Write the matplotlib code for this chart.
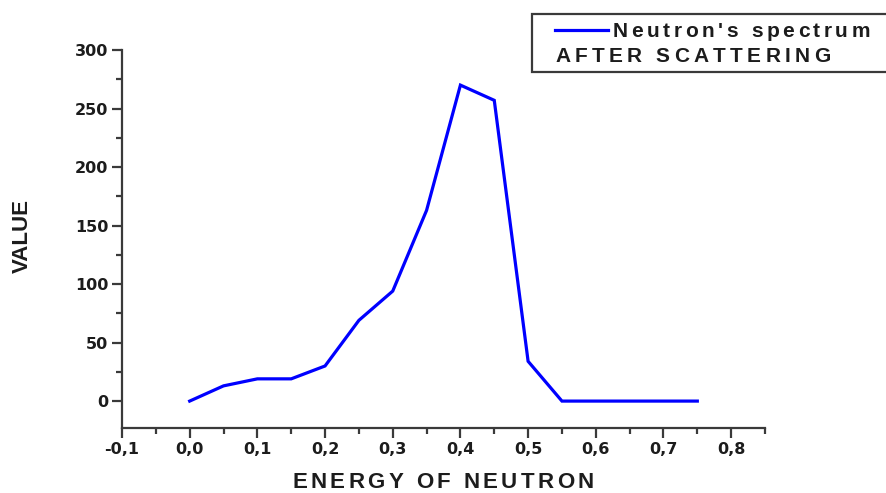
import numpy as np
import matplotlib
matplotlib.use('Agg')
import matplotlib.pyplot as plt
from matplotlib.font_manager import FontProperties
from matplotlib.ticker import MultipleLocator, FuncFormatter
from matplotlib.patches import Rectangle
from matplotlib.lines import Line2D

# data
energy = [0.0, 0.05, 0.10, 0.15, 0.20, 0.25, 0.30, 0.35, 0.40, 0.45, 0.50, 0.55, 0.60, 0.65, 0.70, 0.75]
value = [0, 13, 19, 19, 30, 69, 94, 163, 270, 257, 34, 0, 0, 0, 0, 0]

series_label = "Neutron's spectrum"
legend_note = "AFTER SCATTERING"
x_title = "ENERGY OF NEUTRON"
y_title = "VALUE"

W, H = 887, 493
fig = plt.figure(figsize=(W / 100, H / 100), dpi=100)
renderer = fig.canvas.get_renderer()

ink = '#1c1c1c'
axis_col = '#3a3a3a'


def spaced_text(s, x0, x1, baseline, size):
    """Draw s letter by letter so that it spans x0..x1 (figure pixels, y from top)."""
    prop = FontProperties(family='Liberation Sans', weight='bold', size=size)
    ref = renderer.get_text_width_height_descent('HH', prop, ismath=False)[0]
    widths = [renderer.get_text_width_height_descent('H' + c + 'H', prop, ismath=False)[0] - ref
              for c in s]
    gap = (x1 - x0 - sum(widths)) / (len(s) - 1)
    x = x0
    for c, w in zip(s, widths):
        if c != ' ':
            fig.text(x / W, 1 - baseline / H, c, fontproperties=prop, color=ink,
                     ha='left', va='baseline')
        x += w + gap


ax = fig.add_axes([122 / W, 65 / H, 643 / W, 378 / H])
ax.plot(energy, value, color='#0000ff', lw=2.3, solid_joinstyle='miter')

ax.set_xlim(-0.1, 0.85)
ax.set_ylim(-23, 300)

for side in ['top', 'right']:
    ax.spines[side].set_visible(False)
for side in ['left', 'bottom']:
    ax.spines[side].set_color(axis_col)
    ax.spines[side].set_linewidth(1.6)

ax.xaxis.set_major_locator(MultipleLocator(0.1))
ax.xaxis.set_minor_locator(MultipleLocator(0.05))
ax.yaxis.set_major_locator(MultipleLocator(50))
ax.yaxis.set_minor_locator(MultipleLocator(25))
ax.xaxis.set_major_formatter(FuncFormatter(lambda v, p: f'{v:.1f}'.replace('.', ',').replace('-0,0', '0,0')))
ax.yaxis.set_major_formatter(FuncFormatter(lambda v, p: f'{v:.0f}'))

ax.tick_params(which='major', direction='out', length=7, width=1.6, color=axis_col,
               labelsize=11.5, labelcolor=ink, pad=3)
ax.tick_params(which='minor', direction='out', length=4.5, width=1.6, color=axis_col)
for lab in ax.get_xticklabels() + ax.get_yticklabels():
    lab.set_fontfamily('DejaVu Sans')
    lab.set_fontweight('bold')

# axis titles
spaced_text(x_title, 292, 594, 488, 16)
fig.text(22 / W, 1 - 236 / H, y_title, rotation=90, ha='center', va='center',
         family='Liberation Sans', weight='bold', size=16, color=ink)

# legend box, cut off by the right edge as in the original
fig.patches.append(Rectangle((532 / W, 1 - 72 / H), 400 / W, 58 / H, transform=fig.transFigure,
                             facecolor='white', edgecolor=axis_col, lw=1.6, clip_on=True))
fig.lines.append(Line2D([555 / W, 608 / W], [1 - 30 / H, 1 - 30 / H], transform=fig.transFigure,
                        color='#0000ff', lw=2.3))
spaced_text(series_label, 613, 870, 37, 15)
spaced_text(legend_note, 555, 830, 62, 15)

fig.savefig('out.png', dpi=100)
